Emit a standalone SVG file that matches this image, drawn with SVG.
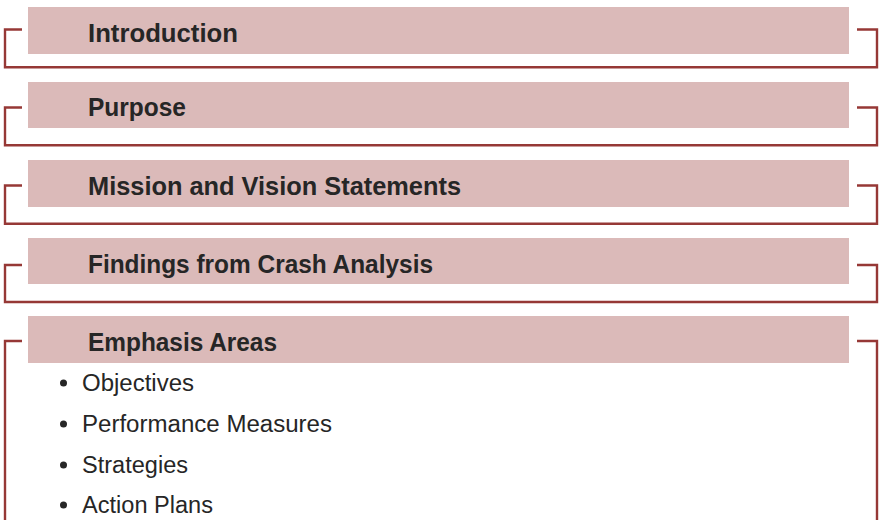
<svg xmlns="http://www.w3.org/2000/svg" width="879" height="520" viewBox="0 0 879 520">
<style>
.box{fill:#DBBAB9}
.ln{fill:none;stroke:#963836;stroke-width:2.4;stroke-linecap:butt;stroke-linejoin:miter}
.h{font-family:"Liberation Sans",Arial,sans-serif;font-weight:bold;font-size:25px;fill:#262626}
.b{font-family:"Liberation Sans",Arial,sans-serif;font-size:23px;fill:#262626}
.dot{fill:#262626}
</style>
<rect width="879" height="520" fill="#ffffff"/>
<g id="connectors">
<path class="ln" d="M22,29.5 H5 V67.2 H877 V29.5 H857"/>
<path class="ln" d="M22,107.5 H5 V145.3 H877 V107.5 H857"/>
<path class="ln" d="M22,185.5 H5 V223.8 H877 V185.5 H857"/>
<path class="ln" d="M22,265 H5 V302 H877 V265 H857"/>
<path class="ln" d="M22,341 H5 V521"/>
<path class="ln" d="M857,341 H877 V521"/>
</g>
<g id="introduction">
<rect class="box" x="28" y="7" width="821" height="47"/>
<text class="h" x="88" y="41.5" textLength="150" lengthAdjust="spacingAndGlyphs">Introduction</text>
</g>
<g id="purpose">
<rect class="box" x="28" y="82" width="821" height="46"/>
<text class="h" x="88" y="116" textLength="98" lengthAdjust="spacingAndGlyphs">Purpose</text>
</g>
<g id="mission">
<rect class="box" x="28" y="160" width="821" height="47"/>
<text class="h" x="88" y="194.5" textLength="373" lengthAdjust="spacingAndGlyphs">Mission and Vision Statements</text>
</g>
<g id="findings">
<rect class="box" x="28" y="238" width="821" height="46"/>
<text class="h" x="88" y="272.5" textLength="345" lengthAdjust="spacingAndGlyphs">Findings from Crash Analysis</text>
</g>
<g id="emphasis">
<rect class="box" x="28" y="316" width="821" height="47"/>
<text class="h" x="88" y="350.5" textLength="189" lengthAdjust="spacingAndGlyphs">Emphasis Areas</text>
<circle class="dot" cx="63.5" cy="383" r="3.5"/>
<text class="b" x="82" y="391" textLength="112" lengthAdjust="spacingAndGlyphs">Objectives</text>
<circle class="dot" cx="63.5" cy="424" r="3.5"/>
<text class="b" x="82" y="431.5" textLength="250" lengthAdjust="spacingAndGlyphs">Performance Measures</text>
<circle class="dot" cx="63.5" cy="465" r="3.5"/>
<text class="b" x="82" y="473" textLength="106" lengthAdjust="spacingAndGlyphs">Strategies</text>
<circle class="dot" cx="63.5" cy="505" r="3.5"/>
<text class="b" x="82" y="512.5" textLength="131" lengthAdjust="spacingAndGlyphs">Action Plans</text>
</g>
</svg>
